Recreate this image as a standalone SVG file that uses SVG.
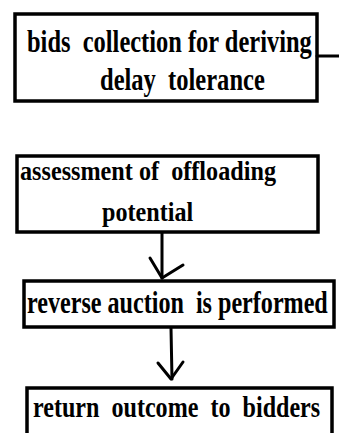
<svg xmlns="http://www.w3.org/2000/svg" width="339" height="433" viewBox="0 0 339 433">
<style>
.box{fill:#fff;stroke:#000;stroke-width:3.5}
.t{font-family:"Liberation Serif","Times New Roman",serif;font-weight:bold;fill:#000;white-space:pre}
.c{fill:none;stroke:#000;stroke-width:3;stroke-linecap:round;stroke-linejoin:round}
</style>
<rect width="339" height="433" fill="#fff"/>
<g id="n1">
<rect class="box" x="15" y="14" width="302" height="87"/>
<g transform="scale(0.8,1)">
<text class="t" x="33.75" y="52" font-size="32" textLength="356" lengthAdjust="spacingAndGlyphs">bids  collection for deriving</text>
<text class="t" x="125" y="90" font-size="32" textLength="206" lengthAdjust="spacingAndGlyphs">delay  tolerance</text>
</g>
</g>
<g id="n2">
<rect class="box" x="17" y="156" width="301" height="76"/>
<g transform="scale(0.8,1)">
<text class="t" x="25" y="180" font-size="28" textLength="320" lengthAdjust="spacingAndGlyphs">assessment of  offloading</text>
<text class="t" x="127.5" y="221" font-size="28" textLength="114" lengthAdjust="spacingAndGlyphs">potential</text>
</g>
</g>
<g id="n3">
<rect class="box" x="24" y="281" width="310" height="46"/>
<g transform="scale(0.8,1)">
<text class="t" x="33.75" y="313" font-size="31" textLength="376" lengthAdjust="spacingAndGlyphs">reverse auction  is performed</text>
</g>
</g>
<g id="n4">
<rect class="box" x="27" y="388" width="305" height="60"/>
<g transform="scale(0.8,1)">
<text class="t" x="41.25" y="417" font-size="29" textLength="359" lengthAdjust="spacingAndGlyphs">return  outcome  to  bidders</text>
</g>
</g>
<g id="connectors">
<line class="c" x1="317" y1="56" x2="340" y2="56" stroke-linecap="butt"/>
<line class="c" x1="162" y1="233" x2="162" y2="278"/>
<polyline class="c" points="150,258 162,278 183,265"/>
<line class="c" x1="171" y1="328" x2="172" y2="379"/>
<polyline class="c" points="158,363 171,379 183,362"/>
</g>
</svg>
